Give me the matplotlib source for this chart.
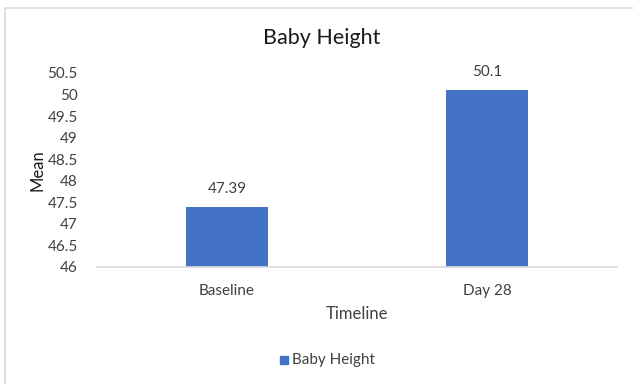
import matplotlib.pyplot as plt
from matplotlib.patches import Rectangle

categories = ['Baseline', 'Day 28']
means = [47.39, 50.1]
yticks = [46, 46.5, 47, 47.5, 48, 48.5, 49, 49.5, 50, 50.5]

plt.rcParams['font.family'] = ['Lato', 'DejaVu Sans']
W, H = 633, 384
fig = plt.figure(figsize=(W / 100, H / 100), dpi=100)

# chart area border
fig.patches.append(Rectangle((5 / W, -0.1), 1.2, 1 - 8 / H + 0.1, transform=fig.transFigure,
                             fill=False, edgecolor='#d9d9d9', linewidth=1.2))

ax = fig.add_axes([97 / W, 1 - 267 / H, 520 / W, 194 / H])
x = range(len(categories))
bars = ax.bar(x, means, width=0.315, color='#4472C4')
ax.set_xlim(-0.5, 1.5)
ax.set_ylim(46, 50.5)
ax.set_yticks(yticks)
ax.set_yticklabels([f'{v:g}' for v in yticks], fontsize=11, color='#404040')
ax.set_xticks(list(x))
ax.set_xticklabels(categories, fontsize=11, color='#404040')
ax.tick_params(axis='y', length=0, pad=14)
ax.tick_params(axis='x', length=0, pad=12)
for side in ['top', 'right', 'left']:
    ax.spines[side].set_visible(False)
ax.spines['bottom'].set_color('#d9d9d9')
ax.spines['bottom'].set_linewidth(1.2)

for xi, v in zip(x, means):
    ax.annotate(f'{v:g}', (xi, v), xytext=(0, 8), textcoords='offset points',
                ha='center', va='bottom', fontsize=11, color='#404040')

fig.text(322 / W, 1 - 38 / H, 'Baby Height', ha='center', va='center', fontsize=15.5, color='#1a1a1a')
fig.text(38 / W, 1 - 170 / H, 'Mean', ha='center', va='center', rotation=90, fontsize=12, color='#1a1a1a')
fig.text(357 / W, 1 - 314 / H, 'Timeline', ha='center', va='center', fontsize=12, color='#404040')

# legend
fig.patches.append(Rectangle((280 / W, 1 - 364 / H), 8 / W, 8 / H, transform=fig.transFigure,
                             color='#4472C4'))
fig.text(292 / W, 1 - 360 / H, 'Baby Height', ha='left', va='center', fontsize=11, color='#404040')

fig.savefig('out.png', dpi=100)
